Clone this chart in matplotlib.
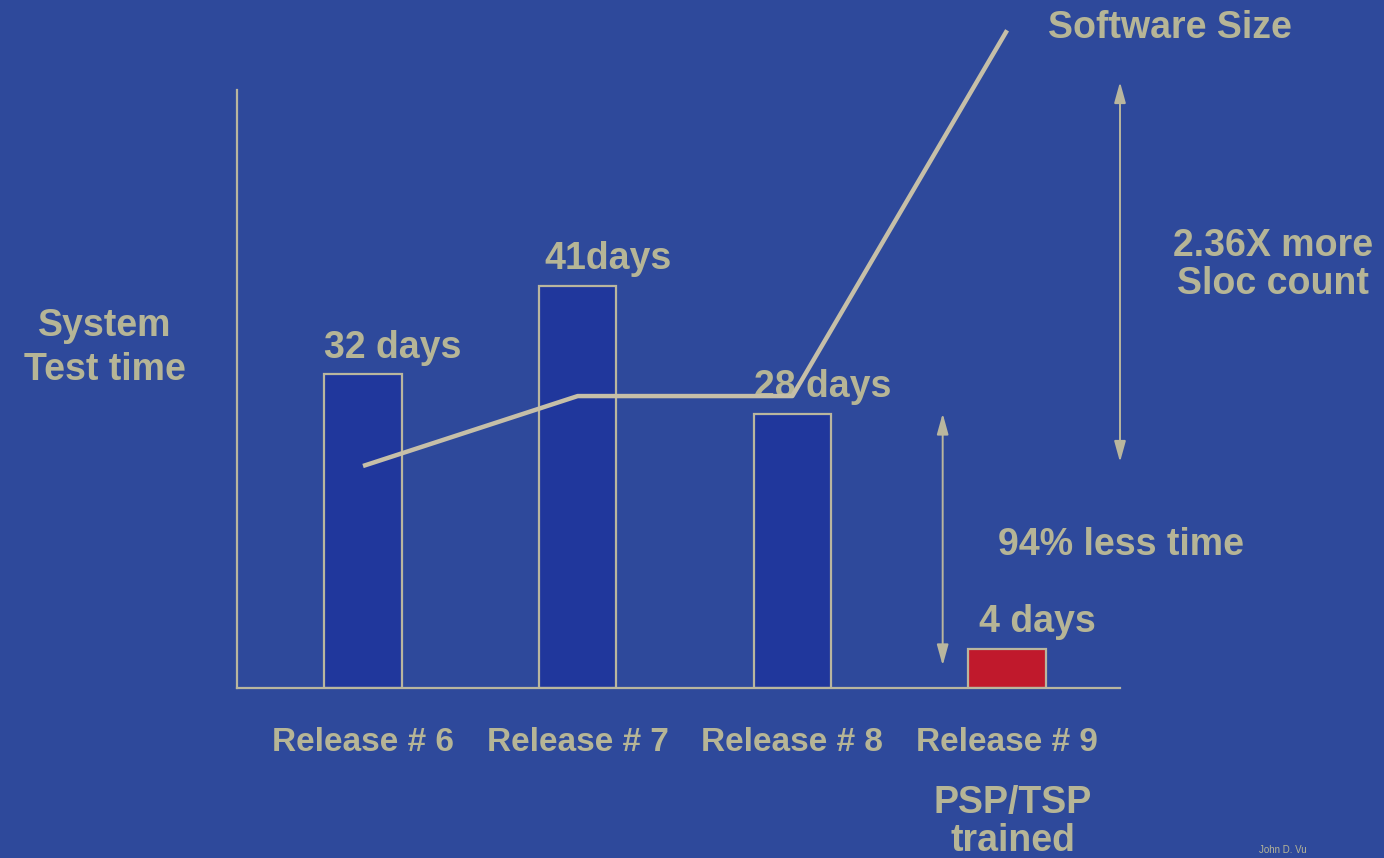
import matplotlib
matplotlib.use("Agg")
import matplotlib.pyplot as plt

plt.rcParams['font.family'] = ['Liberation Sans', 'DejaVu Sans']
plt.rcParams['font.weight'] = 'bold'

releases = ['Release # 6', 'Release # 7', 'Release # 8', 'Release # 9']
test_days = [32, 41, 28, 4]
day_labels = ['32 days', '41days', '28 days', '4 days']
# software size relative to release 8
software_size = [0.74, 1.0, 1.0, 2.36]

bg = '#2E499B'
bar_blue = '#20379C'
bar_red = '#C0192C'
txt = '#B6B596'
edge = '#B9B69E'
line_col = '#C6BFA8'

fig = plt.figure(figsize=(13.84, 8.58), dpi=100, facecolor=bg)
ax = fig.add_axes([237 / 1384, 170 / 858, 883 / 1384, 598 / 858])
ax.set_facecolor('none')

x = list(range(len(releases)))
colors = [bar_blue, bar_blue, bar_blue, bar_red]
ax.bar(x, test_days, width=0.36, color=colors, edgecolor=edge, linewidth=1.6, zorder=2)

ax.set_xlim(-0.587, 3.526)
ax.set_ylim(0, 61)

for s in ['top', 'right']:
    ax.spines[s].set_visible(False)
for s in ['left', 'bottom']:
    ax.spines[s].set_color(edge)
    ax.spines[s].set_linewidth(1.6)
ax.set_yticks([])
ax.set_xticks(x)
ax.set_xticklabels(releases, fontsize=24, color=txt, fontweight='bold')
ax.tick_params(axis='x', length=0, pad=28)

# day labels above each bar
for xi, d, lab in zip(x, test_days, day_labels):
    ax.annotate(lab, xy=(xi + 0.14, d), xytext=(0, 12), textcoords='offset points',
                ha='center', va='baseline', fontsize=27, color=txt, fontweight='bold')

# software size line on its own scale
ax2 = ax.twinx()
ax2.set_ylim(-0.0855, 2.138)
ax2.axis('off')
ax2.plot(x, software_size, color=line_col, linewidth=3.2, clip_on=False, zorder=3,
         solid_capstyle='butt')

arrow = dict(arrowstyle='<|-|>,head_length=0.9,head_width=0.25', color=edge, lw=1.4,
             shrinkA=0, shrinkB=0, mutation_scale=14)

# 94% less time arrow between release 8 and 9
ax.annotate('', xy=(2.70, test_days[2]), xytext=(2.70, 2.3), arrowprops=arrow)
ax.annotate('', xy=(1120, 776), xytext=(1120, 396), xycoords='figure pixels',
            textcoords='figure pixels', arrowprops=arrow)

fig.text(105 / 1384, 1 - 348 / 858, 'System\nTest time', ha='center', va='center',
         fontsize=27, color=txt, fontweight='bold', linespacing=1.3)
fig.text(1170 / 1384, 1 - 28 / 858, 'Software Size', ha='center', va='center',
         fontsize=27, color=txt, fontweight='bold')
fig.text(1273 / 1384, 1 - 265 / 858, '2.36X more\nSloc count', ha='center', va='center',
         fontsize=27, color=txt, fontweight='bold', linespacing=1.1)
fig.text(1121 / 1384, 1 - 545 / 858, '94% less time', ha='center', va='center',
         fontsize=27, color=txt, fontweight='bold')
fig.text(1013 / 1384, 1 - 822 / 858, 'PSP/TSP\ntrained', ha='center', va='center',
         fontsize=27, color=txt, fontweight='bold', linespacing=1.1)
fig.text(1283 / 1384, 1 - 850 / 858, 'John D. Vu', ha='center', va='center',
         fontsize=7, color=txt, fontweight='normal')

fig.savefig('out.png', dpi=100, facecolor=bg)
